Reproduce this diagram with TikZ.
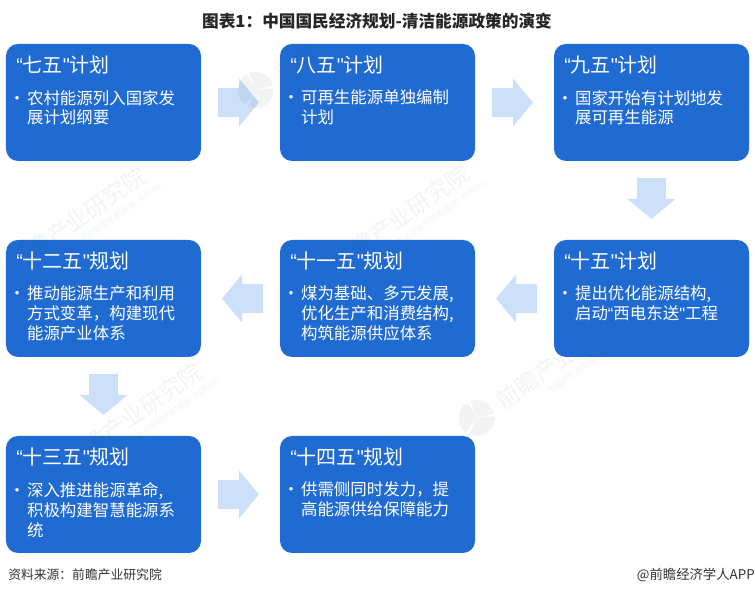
\documentclass[tikz,border=0pt]{standalone}
\usepackage{fontspec}
\setmainfont{Noto Sans CJK SC}
\newfontfamily\quotefont{Liberation Sans}
\usetikzlibrary{positioning,arrows.meta}

\definecolor{stageblue}{HTML}{1F6BD2}
\definecolor{flowblue}{HTML}{CCE0FA}
\definecolor{wmgray}{HTML}{465A78}

\newcommand{\stagename}[1]{{\quotefont “}#1{\quotefont "}}
\newcommand{\bul}{\llap{\textbullet\hspace{1.2pt}}}

\tikzset{
  stage/.style={rectangle,rounded corners=.3cm,fill=stageblue,minimum width=4.875cm,minimum height=2.925cm,inner sep=0pt,outer sep=0pt},
  stagehead/.style={anchor=west,xshift=.25cm,yshift=-.525cm,inner sep=0pt,text=white,font=\fontsize{14.2}{17}\selectfont},
  stagebody/.style={anchor=north west,xshift=.52cm,yshift=-1.145cm,inner sep=0pt,align=left,text=white,font=\fontsize{11.7}{14.2}\selectfont},
  flowarrow/.style={flowblue,line width=.725cm,shorten <=.425cm,shorten >=.525cm,-{Triangle[length=.5cm,width=1.175cm]}},
  wmtext/.style={anchor=west,inner sep=0pt,text=wmgray,opacity=.07,font=\fontsize{16.4}{18}\selectfont},
  wmsub/.style={anchor=west,inner sep=0pt,text=wmgray,opacity=.07,font=\fontsize{5.6}{7}\selectfont},
  wmlogo/.style={wmgray,opacity=.07}
}

\begin{document}
\begin{tikzpicture}[node distance=1.975cm]
  \useasboundingbox (0,0) rectangle (18.875,14.9);

  %title
  \node[font=\fontsize{11.85}{14}\selectfont\bfseries,text=black!85] (title) at (9.425,14.375) {图表1：中国国民经济规划-清洁能源政策的演变};

  %first row
  \node[stage,anchor=north west] (qiwu) at (.15,13.8) {};
  \node[stage,right=of qiwu] (bawu) {};
  \node[stage,right=of bawu] (jiuwu) {};
  %second row
  \node[stage,below=of jiuwu] (shiwu) {};
  \node[stage,left=of shiwu] (shiyiwu) {};
  \node[stage,left=of shiyiwu] (shierwu) {};
  %third row
  \node[stage,below=of shierwu] (shisanwu) {};
  \node[stage,right=of shisanwu] (shisiwu) {};

  %arrows
  \draw[flowarrow] (qiwu) -- (bawu);
  \draw[flowarrow] (bawu) -- (jiuwu);
  \draw[flowarrow] (jiuwu) -- (shiwu);
  \draw[flowarrow] (shiwu) -- (shiyiwu);
  \draw[flowarrow] (shiyiwu) -- (shierwu);
  \draw[flowarrow] (shierwu) -- (shisanwu);
  \draw[flowarrow] (shisanwu) -- (shisiwu);

  %box texts
  \node[stagehead] (qiwuhead) at (qiwu.north west) {\stagename{七五}计划};
  \node[stagebody] (qiwutext) at (qiwu.north west) {\bul 农村能源列入国家发\\展计划纲要};
  \node[stagehead] (bawuhead) at (bawu.north west) {\stagename{八五}计划};
  \node[stagebody] (bawutext) at (bawu.north west) {\bul 可再生能源单独编制\\计划};
  \node[stagehead] (jiuwuhead) at (jiuwu.north west) {\stagename{九五}计划};
  \node[stagebody] (jiuwutext) at (jiuwu.north west) {\bul 国家开始有计划地发\\展可再生能源};
  \node[stagehead] (shiwuhead) at (shiwu.north west) {\stagename{十五}计划};
  \node[stagebody] (shiwutext) at (shiwu.north west) {\bul 提出优化能源结构,\\启动{\quotefont “}西电东送{\quotefont "}工程};
  \node[stagehead] (shiyiwuhead) at (shiyiwu.north west) {\stagename{十一五}规划};
  \node[stagebody] (shiyiwutext) at (shiyiwu.north west) {\bul 煤为基础、多元发展,\\优化生产和消费结构,\\构筑能源供应体系};
  \node[stagehead] (shierwuhead) at (shierwu.north west) {\stagename{十二五}规划};
  \node[stagebody] (shierwutext) at (shierwu.north west) {\bul 推动能源生产和利用\\方式变革，构建现代\\能源产业体系};
  \node[stagehead] (shisanwuhead) at (shisanwu.north west) {\stagename{十三五}规划};
  \node[stagebody] (shisanwutext) at (shisanwu.north west) {\bul 深入推进能源革命,\\积极构建智慧能源系\\统};
  \node[stagehead] (shisiwuhead) at (shisiwu.north west) {\stagename{十四五}规划};
  \node[stagebody] (shisiwutext) at (shisiwu.north west) {\bul 供需侧同时发力，提\\高能源供给保障能力};

  %source lines
  \node[anchor=west,inner sep=0pt,font=\fontsize{9.1}{11}\selectfont,text=black!80] (source) at (.2,.525) {资料来源：前瞻产业研究院};
  \node[anchor=east,inner sep=0pt,font=\fontsize{9.5}{11}\selectfont,text=black!80] (brand) at (18.875,.525) {@前瞻经济学人APP};

  %watermarks
  \begin{scope}[shift={(.275,8.25)},rotate=35,transform shape]
    \node[wmtext] (wma) at (0,0) {前瞻产业研究院};
    \node[wmsub] (wmasub) at (1.2,-.5) {中国产业咨询领导者(股票: 839599)};
  \end{scope}
  \begin{scope}[shift={(8.35,8.3)},rotate=35,transform shape]
    \node[wmtext] (wmb) at (0,0) {前瞻产业研究院};
    \node[wmsub] (wmbsub) at (1.2,-.5) {中国产业咨询领导者(股票: 839599)};
  \end{scope}
  \begin{scope}[shift={(1.675,3.35)},rotate=35,transform shape]
    \node[wmtext] (wmc) at (0,0) {前瞻产业研究院};
    \node[wmsub] (wmcsub) at (1.2,-.5) {中国产业咨询领导者(股票: 839599)};
  \end{scope}
  \begin{scope}[shift={(12.45,4.825)},rotate=35,transform shape]
    \node[wmtext] (wmd) at (0,0) {前瞻产业研究院};
    \node[wmsub] (wmdsub) at (1.2,-.5) {中国产业咨询领导者(股票: 839599)};
    \fill[wmlogo] (-.65,0) -- ++(-20:.45) arc (-20:75:.45) -- cycle;
    \fill[wmlogo] (-.65,0) -- ++(85:.45) arc (85:200:.45) -- cycle;
    \fill[wmlogo] (-.65,0) -- ++(210:.45) arc (210:330:.45) -- cycle;
  \end{scope}
  \begin{scope}[shift={(6.925,13.025)},rotate=35,transform shape]
    \node[wmtext] (wme) at (0,0) {前瞻};
    \fill[wmlogo] (-.65,0) -- ++(-20:.45) arc (-20:75:.45) -- cycle;
    \fill[wmlogo] (-.65,0) -- ++(85:.45) arc (85:200:.45) -- cycle;
    \fill[wmlogo] (-.65,0) -- ++(210:.45) arc (210:330:.45) -- cycle;
  \end{scope}
\end{tikzpicture}
\end{document}
